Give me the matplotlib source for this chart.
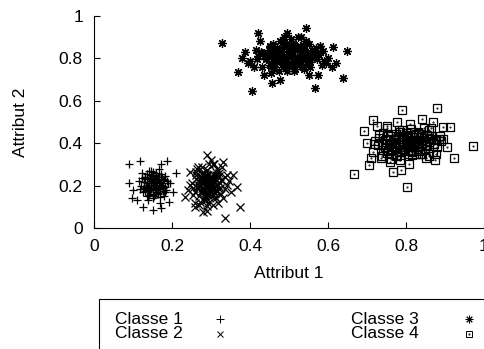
import matplotlib.pyplot as plt
from matplotlib.patches import Rectangle
from matplotlib.lines import Line2D

plt.rcParams['font.family'] = ['Liberation Sans', 'DejaVu Sans']

# Classe 1
x1 = [0.091, 0.118, 0.171, 0.186, 0.210, 0.091, 0.099, 0.097, 0.126, 0.150,
      0.173, 0.193, 0.203, 0.110, 0.120, 0.130, 0.140, 0.150, 0.160, 0.170,
      0.180, 0.190, 0.125, 0.135, 0.145, 0.155, 0.165, 0.175, 0.185, 0.130,
      0.140, 0.150, 0.160, 0.170, 0.180, 0.122, 0.135, 0.148, 0.158, 0.168,
      0.178, 0.188, 0.128, 0.142, 0.152, 0.162, 0.172, 0.182, 0.115, 0.138,
      0.146, 0.156, 0.166, 0.176, 0.195, 0.132, 0.144, 0.154, 0.163, 0.174,
      0.140, 0.150, 0.160, 0.147, 0.157, 0.167, 0.137, 0.153, 0.169, 0.183,
      0.128, 0.138, 0.148, 0.158, 0.168, 0.178, 0.133, 0.143, 0.153, 0.163,
      0.173, 0.183, 0.124, 0.136, 0.146, 0.156, 0.166, 0.176, 0.141, 0.151,
      0.161, 0.171, 0.131, 0.145, 0.159, 0.149, 0.139, 0.165, 0.155, 0.119]
y1 = [0.302, 0.317, 0.302, 0.317, 0.258, 0.214, 0.179, 0.140, 0.100, 0.085,
      0.093, 0.124, 0.171, 0.130, 0.200, 0.240, 0.180, 0.220, 0.260, 0.190,
      0.230, 0.210, 0.170, 0.150, 0.270, 0.200, 0.160, 0.240, 0.180, 0.230,
      0.190, 0.140, 0.250, 0.210, 0.150, 0.260, 0.210, 0.230, 0.180, 0.120,
      0.200, 0.220, 0.190, 0.270, 0.160, 0.220, 0.240, 0.170, 0.220, 0.130,
      0.250, 0.200, 0.280, 0.190, 0.210, 0.240, 0.180, 0.150, 0.230, 0.200,
      0.210, 0.190, 0.170, 0.220, 0.160, 0.200, 0.205, 0.235, 0.145, 0.195,
      0.215, 0.175, 0.245, 0.205, 0.185, 0.225, 0.195, 0.235, 0.215, 0.165,
      0.205, 0.245, 0.235, 0.255, 0.185, 0.235, 0.215, 0.175, 0.155, 0.265,
      0.195, 0.255, 0.175, 0.205, 0.245, 0.225, 0.195, 0.185, 0.205, 0.185]

# Classe 2
x2 = [0.289, 0.332, 0.233, 0.366, 0.336, 0.374, 0.280, 0.246, 0.255, 0.262,
      0.270, 0.278, 0.285, 0.292, 0.300, 0.308, 0.315, 0.322, 0.330, 0.340,
      0.250, 0.258, 0.266, 0.274, 0.282, 0.290, 0.298, 0.306, 0.314, 0.326,
      0.262, 0.270, 0.278, 0.286, 0.294, 0.302, 0.310, 0.318, 0.345, 0.352,
      0.240, 0.268, 0.276, 0.284, 0.296, 0.304, 0.312, 0.320, 0.335, 0.258,
      0.272, 0.280, 0.288, 0.298, 0.306, 0.314, 0.324, 0.264, 0.290, 0.300,
      0.276, 0.286, 0.294, 0.310, 0.282, 0.302, 0.318, 0.268, 0.296, 0.356,
      0.308, 0.284, 0.292, 0.274, 0.300, 0.312, 0.260, 0.328, 0.288, 0.304,
      0.270, 0.280, 0.290, 0.300, 0.310, 0.320, 0.275, 0.285, 0.295, 0.305,
      0.315, 0.265, 0.283, 0.293, 0.303, 0.313, 0.279, 0.289, 0.299, 0.309,
      0.255, 0.325, 0.337, 0.247, 0.271, 0.297, 0.317, 0.287, 0.307, 0.291,
      0.261, 0.341, 0.281, 0.301, 0.321, 0.277, 0.295, 0.311, 0.286, 0.306]
y2 = [0.344, 0.313, 0.148, 0.195, 0.046, 0.100, 0.077, 0.266, 0.190, 0.230,
      0.150, 0.260, 0.200, 0.120, 0.240, 0.170, 0.280, 0.210, 0.140, 0.250,
      0.210, 0.170, 0.290, 0.220, 0.130, 0.250, 0.180, 0.300, 0.200, 0.160,
      0.250, 0.110, 0.190, 0.270, 0.160, 0.210, 0.230, 0.120, 0.220, 0.170,
      0.180, 0.220, 0.240, 0.150, 0.300, 0.190, 0.140, 0.260, 0.240, 0.120,
      0.200, 0.170, 0.230, 0.210, 0.110, 0.250, 0.190, 0.280, 0.080, 0.320,
      0.290, 0.140, 0.180, 0.200, 0.260, 0.150, 0.240, 0.200, 0.220, 0.250,
      0.300, 0.210, 0.190, 0.170, 0.230, 0.180, 0.100, 0.290, 0.130, 0.220,
      0.205, 0.185, 0.225, 0.195, 0.215, 0.185, 0.235, 0.165, 0.205, 0.255,
      0.175, 0.195, 0.245, 0.155, 0.225, 0.265, 0.215, 0.275, 0.175, 0.145,
      0.155, 0.225, 0.185, 0.205, 0.125, 0.235, 0.205, 0.195, 0.185, 0.105,
      0.265, 0.205, 0.225, 0.215, 0.245, 0.175, 0.195, 0.165, 0.245, 0.235]

# Classe 3
x3 = [0.327, 0.370, 0.406, 0.421, 0.544, 0.648, 0.639, 0.567, 0.456, 0.494,
      0.614, 0.387, 0.400, 0.415, 0.430, 0.445, 0.460, 0.475, 0.490, 0.505,
      0.520, 0.535, 0.550, 0.565, 0.580, 0.595, 0.410, 0.425, 0.440, 0.455,
      0.470, 0.485, 0.500, 0.515, 0.530, 0.545, 0.560, 0.575, 0.590, 0.420,
      0.435, 0.450, 0.465, 0.480, 0.495, 0.510, 0.525, 0.540, 0.555, 0.570,
      0.395, 0.440, 0.462, 0.478, 0.492, 0.508, 0.522, 0.538, 0.552, 0.600,
      0.448, 0.468, 0.484, 0.500, 0.516, 0.532, 0.548, 0.562, 0.585, 0.610,
      0.452, 0.472, 0.488, 0.504, 0.520, 0.536, 0.552, 0.428, 0.498, 0.528,
      0.380, 0.458, 0.476, 0.512, 0.544, 0.574, 0.620, 0.466, 0.506, 0.488,
      0.445, 0.460, 0.475, 0.490, 0.505, 0.520, 0.535, 0.550, 0.565, 0.455,
      0.470, 0.485, 0.500, 0.515, 0.530, 0.545, 0.560, 0.440, 0.465, 0.480,
      0.495, 0.510, 0.525, 0.540, 0.555, 0.450, 0.472, 0.488, 0.502, 0.518,
      0.532, 0.548, 0.578, 0.418, 0.432, 0.458, 0.482, 0.508, 0.528, 0.558,
      0.588, 0.468, 0.492, 0.512, 0.538, 0.462, 0.486, 0.514, 0.542, 0.572]
y3 = [0.874, 0.737, 0.648, 0.921, 0.942, 0.836, 0.706, 0.659, 0.683, 0.918,
      0.855, 0.832, 0.790, 0.840, 0.760, 0.820, 0.870, 0.740, 0.800, 0.890,
      0.770, 0.850, 0.720, 0.810, 0.860, 0.780, 0.760, 0.880, 0.810, 0.730,
      0.850, 0.780, 0.830, 0.750, 0.900, 0.800, 0.840, 0.720, 0.790, 0.810,
      0.720, 0.860, 0.790, 0.820, 0.740, 0.870, 0.780, 0.830, 0.760, 0.850,
      0.780, 0.800, 0.750, 0.880, 0.810, 0.770, 0.900, 0.750, 0.870, 0.800,
      0.840, 0.830, 0.760, 0.850, 0.800, 0.820, 0.790, 0.810, 0.770, 0.760,
      0.770, 0.800, 0.870, 0.780, 0.840, 0.760, 0.810, 0.830, 0.820, 0.860,
      0.800, 0.860, 0.700, 0.740, 0.880, 0.820, 0.780, 0.810, 0.770, 0.900,
      0.815, 0.795, 0.845, 0.775, 0.825, 0.805, 0.865, 0.785, 0.835, 0.765,
      0.815, 0.885, 0.805, 0.845, 0.775, 0.825, 0.805, 0.795, 0.775, 0.835,
      0.865, 0.795, 0.845, 0.815, 0.785, 0.855, 0.805, 0.765, 0.835, 0.785,
      0.855, 0.775, 0.815, 0.795, 0.825, 0.835, 0.805, 0.815, 0.795, 0.825,
      0.835, 0.785, 0.775, 0.865, 0.845, 0.825, 0.855, 0.765, 0.795, 0.795]

# Classe 4
x4 = [0.879, 0.973, 0.667, 0.803, 0.923, 0.789, 0.913, 0.894, 0.706, 0.766,
      0.786, 0.840, 0.870, 0.692, 0.716, 0.874, 0.700, 0.715, 0.730, 0.745,
      0.760, 0.775, 0.790, 0.805, 0.820, 0.835, 0.850, 0.865, 0.880, 0.895,
      0.710, 0.725, 0.740, 0.755, 0.770, 0.785, 0.800, 0.815, 0.830, 0.845,
      0.860, 0.720, 0.735, 0.750, 0.765, 0.780, 0.795, 0.810, 0.825, 0.840,
      0.855, 0.870, 0.885, 0.905, 0.728, 0.742, 0.758, 0.772, 0.788, 0.802,
      0.818, 0.832, 0.848, 0.862, 0.878, 0.738, 0.752, 0.768, 0.782, 0.798,
      0.812, 0.828, 0.842, 0.858, 0.748, 0.762, 0.778, 0.792, 0.808, 0.822,
      0.838, 0.852, 0.776, 0.796, 0.816, 0.834, 0.756, 0.806, 0.826, 0.890,
      0.745, 0.760, 0.775, 0.790, 0.805, 0.820, 0.835, 0.850, 0.865, 0.755,
      0.770, 0.785, 0.800, 0.815, 0.830, 0.845, 0.860, 0.740, 0.765, 0.780,
      0.795, 0.810, 0.825, 0.840, 0.855, 0.750, 0.772, 0.788, 0.802, 0.818,
      0.832, 0.848, 0.878, 0.718, 0.732, 0.758, 0.782, 0.808, 0.828, 0.858,
      0.888, 0.768, 0.792, 0.812, 0.838, 0.762, 0.786, 0.814, 0.842, 0.872]
y4 = [0.567, 0.388, 0.255, 0.192, 0.329, 0.557, 0.478, 0.478, 0.297, 0.263,
      0.274, 0.514, 0.499, 0.458, 0.509, 0.321, 0.400, 0.360, 0.440, 0.380,
      0.420, 0.340, 0.460, 0.390, 0.430, 0.350, 0.410, 0.470, 0.380, 0.420,
      0.330, 0.480, 0.370, 0.440, 0.400, 0.320, 0.450, 0.360, 0.410, 0.470,
      0.340, 0.410, 0.330, 0.480, 0.370, 0.430, 0.390, 0.490, 0.350, 0.400,
      0.440, 0.360, 0.420, 0.380, 0.390, 0.450, 0.310, 0.420, 0.360, 0.440,
      0.380, 0.450, 0.390, 0.420, 0.350, 0.340, 0.470, 0.400, 0.460, 0.370,
      0.410, 0.380, 0.350, 0.460, 0.420, 0.380, 0.340, 0.430, 0.300, 0.400,
      0.430, 0.330, 0.500, 0.420, 0.370, 0.410, 0.390, 0.350, 0.440, 0.410,
      0.415, 0.395, 0.445, 0.375, 0.425, 0.405, 0.365, 0.385, 0.435, 0.365,
      0.415, 0.455, 0.405, 0.345, 0.375, 0.425, 0.405, 0.395, 0.375, 0.435,
      0.365, 0.395, 0.445, 0.415, 0.385, 0.355, 0.405, 0.365, 0.435, 0.385,
      0.455, 0.375, 0.415, 0.395, 0.425, 0.435, 0.405, 0.415, 0.395, 0.425,
      0.435, 0.385, 0.375, 0.465, 0.445, 0.325, 0.345, 0.365, 0.395, 0.395]

labels = ['Classe 1', 'Classe 2', 'Classe 3', 'Classe 4']
ticks = [0, 0.2, 0.4, 0.6, 0.8, 1]
tick_labels = ['0', '0.2', '0.4', '0.6', '0.8', '1']

W, H = 484, 349
fig = plt.figure(figsize=(W / 100, H / 100), dpi=100)
ax = fig.add_axes([94 / W, 1 - 228 / H, 390 / W, 212 / H])

lw = 0.8
star = (8, 2, 0)  # + and x together
markers = ['+', 'x', star, 's']
sizes = [6.3, 6.3, 6.3, 6.0]
series = [(x1, y1), (x2, y2), (x3, y3), (x4, y4)]
for (xs, ys), mk, sz in zip(series, markers, sizes):
    ax.plot(xs, ys, ls='none', marker=mk, ms=sz, mew=0.9, mfc='none', color='k')
ax.plot(x4, y4, ls='none', marker='.', ms=1, color='k')

ax.set_xlim(0, 1)
ax.set_ylim(0, 1)
ax.set_xticks(ticks)
ax.set_xticklabels(tick_labels)
ax.set_yticks(ticks)
ax.set_yticklabels(tick_labels)
ax.spines['top'].set_visible(False)
ax.spines['right'].set_visible(False)
for s in ['left', 'bottom']:
    ax.spines[s].set_linewidth(lw)
ax.tick_params(direction='in', length=4, width=lw, labelsize=12.5, pad=8)
ax.set_xlabel('Attribut 1', fontsize=12.5)
ax.set_ylabel('Attribut 2', fontsize=12.5)
ax.xaxis.set_label_coords(0.5, -(266 - 228) / 212)
ax.yaxis.set_label_coords(-(94 - 28) / 390, 0.5)

# key box below the plot
fig.patches.append(Rectangle((99 / W, -0.2), 1.0, 0.2 + 1 - 299 / H,
                             transform=fig.transFigure, fill=False,
                             ec='k', lw=lw))
rows = [319, 334, 319, 334]
text_x = [115, 115, 351, 351]
mark_x = [220, 220, 469, 469]
key_sizes = [5.5, 5.0, 5.5, 5.0]
for lab, ry, tx, mx, mk, sz in zip(labels, rows, text_x, mark_x, markers, key_sizes):
    fy = 1 - ry / H
    fig.text(tx / W, fy, lab, fontsize=12.5, va='center', ha='left')
    fig.lines.append(Line2D([mx / W], [fy], transform=fig.transFigure,
                            ls='none', marker=mk, ms=sz, mew=0.7,
                            mfc='none', color='k'))
fig.lines.append(Line2D([469 / W], [1 - 334 / H], transform=fig.transFigure,
                        ls='none', marker='.', ms=1, color='k'))

fig.savefig('out.png', dpi=100)
